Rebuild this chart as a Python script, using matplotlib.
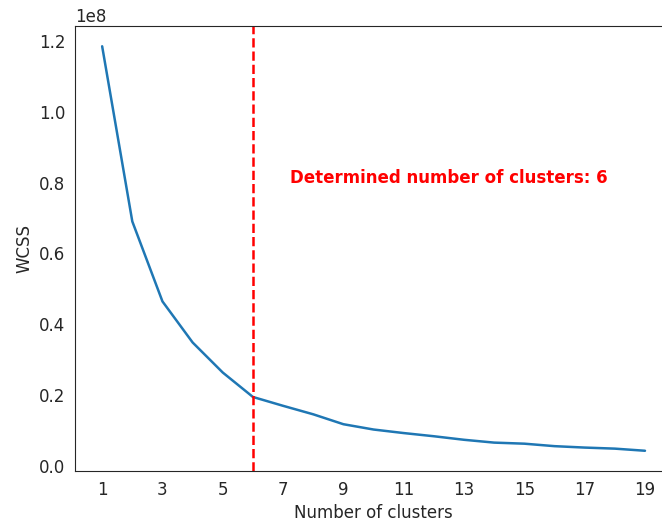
import matplotlib
matplotlib.use("Agg")
import matplotlib.pyplot as plt
import seaborn as sns

# elbow curve values
n_clusters = list(range(1, 20))
wcss = [1.185e8, 0.690e8, 0.464e8, 0.348e8, 0.263e8, 0.194e8, 0.169e8, 0.145e8,
        0.117e8, 0.102e8, 0.092e8, 0.083e8, 0.073e8, 0.065e8, 0.062e8, 0.055e8,
        0.051e8, 0.048e8, 0.042e8]
best_k = 6

sns.set_style("white")

fig = plt.figure(figsize=(6.62, 5.21), dpi=100)
ax = fig.add_axes([0.1133, 0.096, 0.902, 0.854])

ax.plot(n_clusters, wcss, color="#1f77b4", linewidth=1.8)
ax.axvline(best_k, color="red", linestyle="--", linewidth=1.8)
ax.text(7.23, 0.813e8, f"Determined number of clusters: {best_k}",
        color="red", fontweight="bold", fontsize=12, va="center", ha="left")

ax.set_xticks(range(1, 20, 2))
ax.set_xlim(0.1, 19.9)
ax.tick_params(labelsize=12)
ax.yaxis.get_offset_text().set_fontsize(12)
ax.set_xlabel("Number of clusters", fontsize=12)
ax.set_ylabel("WCSS", fontsize=12)

fig.savefig("out.png", dpi=100)
